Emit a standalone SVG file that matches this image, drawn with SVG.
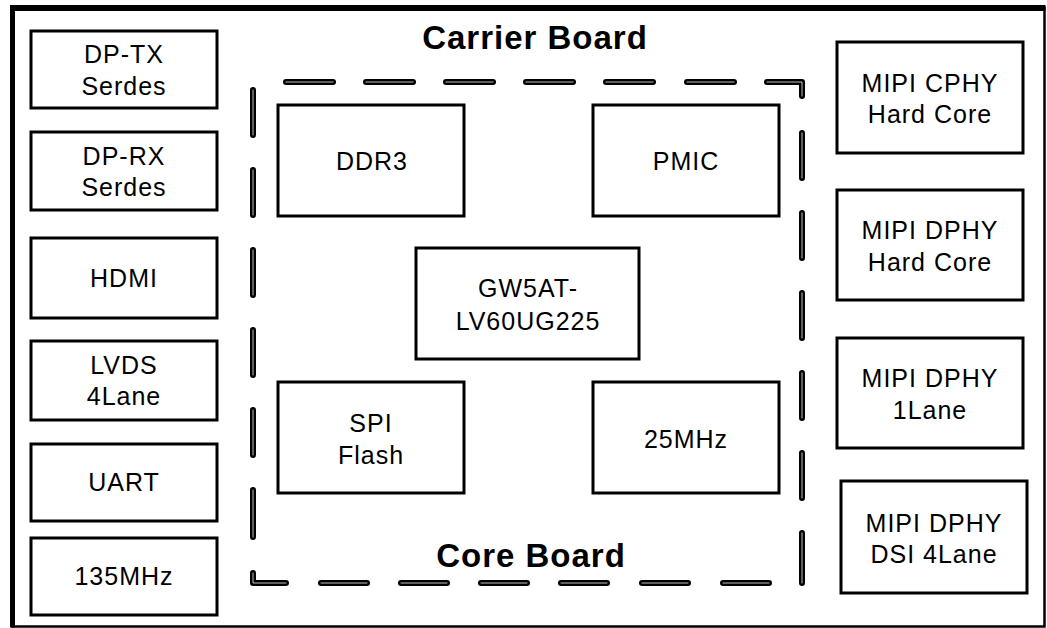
<svg xmlns="http://www.w3.org/2000/svg" width="1047" height="628" viewBox="0 0 1047 628">
<style>
.box{fill:#fff;stroke:#000;stroke-width:3}
.lbl{font-family:"Liberation Sans",Arial,sans-serif;font-size:25px;letter-spacing:1px;text-anchor:middle;fill:#000}
.ttl{font-family:"Liberation Sans",Arial,sans-serif;font-size:33px;font-weight:bold;letter-spacing:1px;text-anchor:middle;fill:#000}
.dk{fill:none;stroke:#000;stroke-width:6;stroke-linecap:round;stroke-linejoin:round}
.hl{fill:none;stroke:#fff;stroke-width:1;stroke-opacity:0.75;stroke-linecap:round;stroke-linejoin:round}
</style>
<defs>
<g id="dashes">
<path d="M286 82H333M366 82H413M446 82H493M526 82H573M606 82H653M687 82H734"/>
<path d="M767 82H802V96"/>
<path d="M802 133V178M802 213V258M802 293V338M802 373V418M802 453V498M802 533V583"/>
<path d="M253 573V583H286"/>
<path d="M321 583H367M401 583H447M481 583H527M561 583H607M642 583H688M723 583H769"/>
<path d="M253 90V135M253 170V215M253 250V295M253 330V375M253 410V455M253 490V537"/>
</g>
</defs>
<rect width="1047" height="628" fill="#fff"/>
<g id="frame">
<rect x="12.5" y="8" width="1032" height="618.5" fill="none" stroke="#000" stroke-width="2.5"/>
<line x1="10" y1="8" x2="1045.5" y2="8" stroke="#000" stroke-width="6"/>
<line x1="12.5" y1="5" x2="12.5" y2="627.5" stroke="#000" stroke-width="5"/>
</g>
<g id="core-board-outline">
<use href="#dashes" class="dk"/>
<use href="#dashes" class="hl"/>
</g>
<g id="title-carrier"><text class="ttl" x="535" y="49">Carrier Board</text></g>
<g id="title-core"><text class="ttl" x="531" y="567">Core Board</text></g>
<g id="dp-tx"><rect class="box" x="31" y="31" width="186" height="77"/><text class="lbl" x="124" y="63">DP-TX</text><text class="lbl" x="124" y="94.5">Serdes</text></g>
<g id="dp-rx"><rect class="box" x="31" y="132" width="186" height="78"/><text class="lbl" x="124" y="164.5">DP-RX</text><text class="lbl" x="124" y="196">Serdes</text></g>
<g id="hdmi"><rect class="box" x="31" y="238" width="186" height="80"/><text class="lbl" x="124" y="287">HDMI</text></g>
<g id="lvds"><rect class="box" x="31" y="341" width="186" height="79"/><text class="lbl" x="124" y="373.5">LVDS</text><text class="lbl" x="124" y="405">4Lane</text></g>
<g id="uart"><rect class="box" x="31" y="444" width="186" height="77"/><text class="lbl" x="124" y="491">UART</text></g>
<g id="osc135"><rect class="box" x="31" y="538" width="186" height="77"/><text class="lbl" x="124" y="585">135MHz</text></g>
<g id="mipi-cphy"><rect class="box" x="837" y="42" width="186" height="111"/><text class="lbl" x="930" y="91.5">MIPI CPHY</text><text class="lbl" x="930" y="123">Hard Core</text></g>
<g id="mipi-dphy-hc"><rect class="box" x="837" y="190" width="186" height="110"/><text class="lbl" x="930" y="239">MIPI DPHY</text><text class="lbl" x="930" y="270.5">Hard Core</text></g>
<g id="mipi-dphy-1lane"><rect class="box" x="837" y="338" width="186" height="110"/><text class="lbl" x="930" y="387">MIPI DPHY</text><text class="lbl" x="930" y="418.5">1Lane</text></g>
<g id="mipi-dphy-dsi"><rect class="box" x="841" y="481" width="186" height="112"/><text class="lbl" x="934" y="531.5">MIPI DPHY</text><text class="lbl" x="934" y="563">DSI 4Lane</text></g>
<g id="ddr3"><rect class="box" x="278" y="105" width="186" height="111"/><text class="lbl" x="372" y="169.5">DDR3</text></g>
<g id="pmic"><rect class="box" x="593" y="105" width="186" height="111"/><text class="lbl" x="686" y="169.5">PMIC</text></g>
<g id="fpga"><rect class="box" x="416" y="248" width="223" height="111"/><text class="lbl" x="528" y="297">GW5AT-</text><text class="lbl" x="528" y="330">LV60UG225</text></g>
<g id="spi-flash"><rect class="box" x="278" y="382" width="186" height="111"/><text class="lbl" x="371" y="432">SPI</text><text class="lbl" x="371" y="463.5">Flash</text></g>
<g id="osc25"><rect class="box" x="593" y="382" width="186" height="111"/><text class="lbl" x="686" y="448">25MHz</text></g>
</svg>
